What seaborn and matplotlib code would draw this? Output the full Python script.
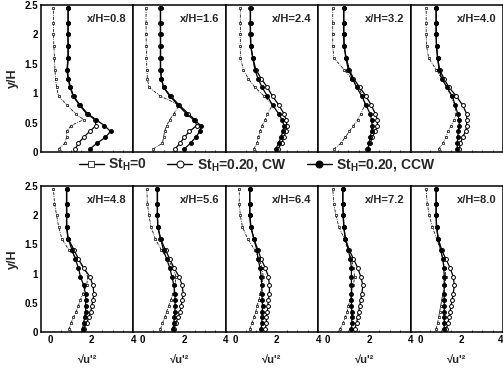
import numpy as np
import pandas as pd
import matplotlib
matplotlib.use("Agg")
import matplotlib.pyplot as plt
import seaborn as sns
from matplotlib.lines import Line2D
from matplotlib.ticker import MultipleLocator

sns.set_theme(style="white")
plt.rcParams['font.family'] = ['Liberation Sans', 'DejaVu Sans']
plt.rcParams['mathtext.default'] = 'regular'

# ---------------- data ----------------
STATIONS = ["0.8", "1.6", "2.4", "3.2", "4.0", "4.8", "5.6", "6.4", "7.2", "8.0"]
Y_LEVELS = [0.05, 0.15, 0.25, 0.35, 0.45, 0.55, 0.65, 0.8, 0.95, 1.1, 1.25, 1.4, 1.6, 1.8, 2.0, 2.2, 2.45]

ST0 = [
    [0.40, 0.70, 0.78, 0.78, 1.00, 1.60, 1.22, 0.80, 0.40, 0.30, 0.25, 0.22, 0.20, 0.17, 0.15, 0.15, 0.15],
    [0.50, 0.95, 1.00, 1.05, 1.15, 1.30, 1.50, 1.75, 0.85, 0.30, 0.22, 0.20, 0.18, 0.17, 0.16, 0.16, 0.16],
    [0.90, 1.05, 1.12, 1.20, 1.30, 1.45, 1.55, 1.80, 1.40, 0.95, 0.63, 0.40, 0.25, 0.25, 0.25, 0.25, 0.25],
    [0.30, 0.65, 0.85, 1.05, 1.25, 1.45, 1.60, 1.80, 1.70, 1.50, 1.15, 0.80, 0.30, 0.25, 0.25, 0.25, 0.25],
    [0.90, 1.10, 1.25, 1.35, 1.50, 1.65, 1.75, 1.68, 1.50, 1.30, 1.05, 0.78, 0.42, 0.32, 0.30, 0.30, 0.30],
    [0.90, 1.00, 1.10, 1.25, 1.35, 1.45, 1.55, 1.75, 1.80, 1.60, 1.30, 0.90, 0.55, 0.40, 0.30, 0.20, 0.15],
    [0.85, 0.95, 1.05, 1.15, 1.25, 1.35, 1.45, 1.55, 1.60, 1.45, 1.20, 0.90, 0.60, 0.40, 0.30, 0.22, 0.20],
    [0.70, 0.80, 0.90, 1.00, 1.05, 1.15, 1.20, 1.30, 1.35, 1.30, 1.15, 0.95, 0.60, 0.35, 0.25, 0.20, 0.20],
    [0.60, 0.75, 0.85, 0.95, 1.00, 1.10, 1.15, 1.25, 1.30, 1.25, 1.15, 1.00, 0.80, 0.55, 0.40, 0.30, 0.25],
    [0.78, 0.85, 0.90, 0.95, 1.00, 1.05, 1.10, 1.20, 1.25, 1.20, 1.10, 1.00, 0.80, 0.60, 0.45, 0.35, 0.30],
]
CW = [
    [1.20, 1.35, 1.60, 1.90, 2.20, 2.15, 1.75, 1.40, 1.10, 0.95, 0.85, 0.80, 0.85, 0.85, 0.85, 0.85, 0.85],
    [1.55, 1.80, 2.00, 2.25, 2.60, 2.50, 2.20, 1.75, 1.35, 1.00, 0.90, 0.85, 0.85, 0.85, 0.85, 0.85, 0.85],
    [2.05, 2.25, 2.35, 2.45, 2.50, 2.45, 2.35, 2.10, 1.80, 1.55, 1.25, 1.00, 0.85, 0.75, 0.73, 0.73, 0.73],
    [1.90, 2.05, 2.15, 2.30, 2.40, 2.40, 2.30, 2.10, 1.85, 1.55, 1.25, 1.05, 0.90, 0.80, 0.78, 0.78, 0.78],
    [1.90, 1.95, 2.05, 2.20, 2.25, 2.25, 2.25, 2.05, 1.75, 1.40, 1.15, 0.95, 0.85, 0.80, 0.78, 0.78, 0.78],
    [1.60, 1.75, 1.85, 1.95, 2.00, 2.05, 2.10, 2.05, 1.90, 1.60, 1.35, 1.15, 0.85, 0.78, 0.78, 0.78, 0.78],
    [1.50, 1.60, 1.70, 1.80, 1.85, 1.90, 1.95, 1.90, 1.75, 1.50, 1.30, 1.10, 0.85, 0.72, 0.70, 0.70, 0.70],
    [1.45, 1.50, 1.50, 1.55, 1.58, 1.60, 1.65, 1.65, 1.60, 1.45, 1.25, 1.10, 0.90, 0.75, 0.70, 0.70, 0.70],
    [1.30, 1.40, 1.45, 1.50, 1.55, 1.60, 1.65, 1.70, 1.60, 1.45, 1.25, 1.05, 0.85, 0.78, 0.75, 0.73, 0.73],
    [1.27, 1.35, 1.40, 1.45, 1.50, 1.55, 1.60, 1.66, 1.60, 1.45, 1.25, 1.05, 0.88, 0.80, 0.78, 0.78, 0.78],
]
CCW = [
    [1.90, 2.25, 2.65, 2.90, 2.60, 2.20, 1.80, 1.42, 1.12, 0.97, 0.87, 0.82, 0.86, 0.86, 0.85, 0.86, 0.86],
    [2.00, 2.30, 2.55, 2.75, 2.80, 2.45, 2.10, 1.70, 1.30, 1.00, 0.90, 0.86, 0.86, 0.86, 0.86, 0.86, 0.86],
    [1.95, 2.10, 2.20, 2.30, 2.35, 2.25, 2.10, 1.80, 1.55, 1.30, 1.10, 0.95, 0.85, 0.76, 0.74, 0.74, 0.74],
    [1.95, 2.00, 2.05, 2.12, 2.15, 2.12, 2.05, 1.85, 1.65, 1.40, 1.20, 1.00, 0.88, 0.80, 0.78, 0.78, 0.78],
    [1.80, 1.80, 1.82, 1.85, 1.90, 1.88, 1.82, 1.70, 1.55, 1.30, 1.05, 0.92, 0.85, 0.80, 0.78, 0.78, 0.78],
    [1.55, 1.60, 1.65, 1.70, 1.70, 1.70, 1.70, 1.60, 1.45, 1.35, 1.20, 1.05, 0.86, 0.79, 0.79, 0.79, 0.79],
    [1.45, 1.50, 1.52, 1.55, 1.56, 1.56, 1.55, 1.50, 1.40, 1.30, 1.15, 1.00, 0.86, 0.73, 0.71, 0.71, 0.71],
    [1.25, 1.28, 1.30, 1.30, 1.32, 1.30, 1.30, 1.28, 1.25, 1.20, 1.10, 1.05, 0.90, 0.76, 0.71, 0.71, 0.71],
    [1.15, 1.17, 1.17, 1.17, 1.15, 1.15, 1.15, 1.15, 1.15, 1.15, 1.10, 1.00, 0.86, 0.79, 0.76, 0.74, 0.74],
    [1.17, 1.17, 1.17, 1.17, 1.17, 1.17, 1.17, 1.17, 1.17, 1.15, 1.10, 1.00, 0.88, 0.80, 0.78, 0.78, 0.78],
]
SERIES_LABELS = ["St$_H$=0", "St$_H$=0.20, CW", "St$_H$=0.20, CCW"]
X_TICKS = [0, 2, 4]
Y_TICKS = [0, 0.5, 1, 1.5, 2, 2.5]
Y_TICK_LABELS = ["0", "0.5", "1", "1.5", "2", "2.5"]
X_LABEL = "\u221Au'\u00B2"

# ---------------- styles ----------------
STYLES = [
    dict(marker='s', markersize=1.9, markerfacecolor='white', markeredgecolor='black',
         markeredgewidth=0.5, linewidth=0.55, linestyle=(0, (4, 1.5, 1, 1.5))),
    dict(marker='o', markersize=2.8, markerfacecolor='white', markeredgecolor='black',
         markeredgewidth=0.7, linewidth=0.9, linestyle='-'),
    dict(marker='o', markersize=2.8, markerfacecolor='black', markeredgecolor='black',
         markeredgewidth=0.7, linewidth=0.9, linestyle='-'),
]

W, H = 503, 369
fig = plt.figure(figsize=(W / 100, H / 100), dpi=100)

left_px = 41.0
panel_w = 92.4
rows = [(5.0, 152.0), (186.0, 332.0)]

for i, st in enumerate(STATIONS):
    r, c = divmod(i, 5)
    top, bot = rows[r]
    ax = fig.add_axes([(left_px + c * panel_w) / W, 1 - bot / H, panel_w / W, (bot - top) / H])
    ax.set_facecolor('white')
    for s, vals in enumerate([ST0[i], CW[i], CCW[i]]):
        df = pd.DataFrame({"v": vals, "y": Y_LEVELS})
        sns.lineplot(data=df, x="v", y="y", ax=ax, sort=False, estimator=None,
                     color='black', label=None, **STYLES[s])
    ax.set_xlim(-0.45, 4.0)
    ax.set_ylim(0, 2.5)
    ax.set_xticks(X_TICKS)
    ax.xaxis.set_minor_locator(MultipleLocator(0.5))
    ax.set_yticks(Y_TICKS)
    ax.tick_params(direction='in', length=3, width=0.8, colors='black',
                   labelsize=7, pad=2, top=False, right=False)
    ax.tick_params(which='minor', direction='in', length=1.8, width=0.6, bottom=True)
    for sp in ax.spines.values():
        sp.set_visible(True)
        sp.set_color('black')
        sp.set_linewidth(1.1)
    ax.set_xlabel("")
    ax.set_ylabel("")
    if c == 0:
        ax.set_yticklabels(Y_TICK_LABELS, fontweight='bold')
        ax.set_ylabel("y/H", fontsize=9, fontweight='bold', labelpad=4)
    else:
        ax.set_yticklabels([])
    if r == 1:
        ax.set_xticklabels([str(t) for t in X_TICKS], fontweight='bold')
        ax.set_xlabel(X_LABEL, fontsize=8, fontweight='bold', labelpad=7)
        if c == 4:
            ax.get_xticklabels()[-1].set_horizontalalignment('right')
    else:
        ax.set_xticklabels([])
    ax.text(0.93, 0.905, "x/H=" + st, transform=ax.transAxes, ha='right', va='center',
            fontsize=8, fontweight='bold')
    if ax.get_legend() is not None:
        ax.get_legend().remove()

handles = [Line2D([0], [0], color='black', **STYLES[k]) for k in range(3)]
for h in handles:
    h.set_markersize(5)
    h.set_linewidth(1.0)
    h.set_linestyle('-')
fig.legend(handles, SERIES_LABELS, loc='center', bbox_to_anchor=(257 / W, 1 - 165 / H),
           ncol=3, frameon=False, handlelength=1.8, handletextpad=0.3, columnspacing=1.5,
           prop=dict(size=10, weight='bold'))

fig.savefig("out.png", dpi=100, facecolor='white')
